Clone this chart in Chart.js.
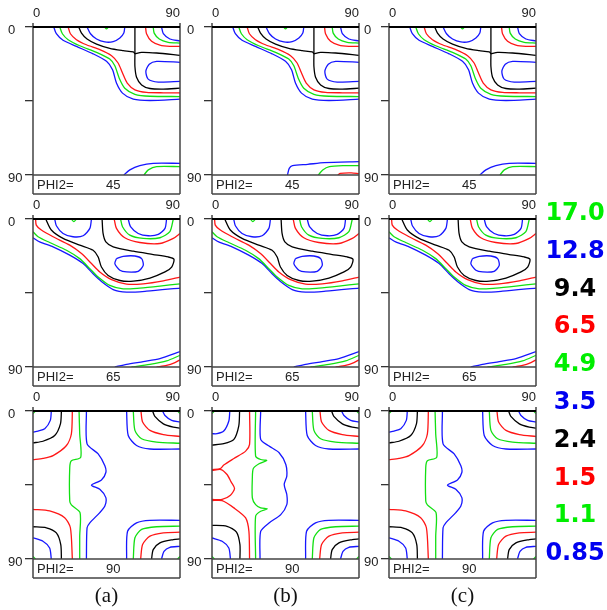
<!DOCTYPE html>
<html lang="en">
<head>
  <meta charset="utf-8">
  <title>ODF sections</title>
  <script src="https://cdn.jsdelivr.net/npm/chart.js@4.4.0/dist/chart.umd.min.js"></script>
  <style>
    body{margin:0;background:#fff;width:607px;height:610px;position:relative;overflow:hidden;font-family:"Liberation Sans",Arial,sans-serif}
    canvas{position:absolute}
    .lev{position:absolute;width:90px;text-align:center;font:bold 24px "DejaVu Sans",sans-serif;line-height:28px}
    .cap{position:absolute;width:100px;text-align:center;font:21px "Liberation Serif",serif;color:#111}
  </style>
</head>
<body>
<script>
// contour levels shown on the right
var levels = ['17.0','12.8','9.4','6.5','4.9','3.5','2.4','1.5','1.1','0.85'];
var levelColors = ['green','blue','black','red','green','blue','black','red','green','blue'];
var phi2Values = [45, 65, 90];
var columnLabels = ['(a)','(b)','(c)'];
var yTicks = [0, 45, 90];
var xTicks = [0, 90];

// PHI2 = 45  (panels a, c ; b shares the upper part)
var p45_blueCap = [[33.1,0],[35.2,4.1],[38.9,7.3],[44.0,9.1],[49.1,8.9],[53.2,6.7],[55.6,3.7],[56.2,0]];
var p45_greenDot = [[43.8,0],[45,1.2],[46.2,0]];
var p45_blackArc = [[28.0,0],[29.7,3.7],[33.1,7.3],[38.9,10.4],[47.0,13.0],[55.2,14.4],[61.4,15.2],[62.4,16.3]];
var p45_blackStem = [[62.4,0],[62.4,16.3]];
var p45_blackRight = [[62.4,16.3],[66.5,15.4],[75.7,15.8],[90,17.3]];
var p45_blackLow = [[62.4,16.3],[62.4,24.0],[63.4,30.5],[66.5,35.2],[71.6,37.4],[79.8,37.8],[90,37.2]];
var p45_redMain = [[21.5,0],[22.9,4.1],[26.6,7.7],[32.7,10.8],[40.9,13.8],[48.1,17.5],[52.1,21.9],[54.8,28.0],[57.7,34.1],[62.4,38.2],[69.5,39.8],[79.8,40.0],[90,40.0]];
var p45_redTop = [[68.9,0],[69.5,4.1],[72.6,8.7],[77.7,11.0],[83.8,11.8],[90,11.8]];
var p45_greenMain = [[16.4,0],[18.0,4.1],[21.5,7.7],[28.6,11.4],[38.9,15.4],[47.0,19.5],[50.1,23.6],[52.8,31.1],[56.2,37.2],[62.4,40.9],[71.6,42.1],[90,42.3]];
var p45_greenTop = [[73.6,0],[74.2,3.7],[77.3,7.3],[82.8,9.3],[90,9.8]];
var p45_blueMain = [[12.7,0],[14.3,4.1],[18.4,8.1],[26.6,11.8],[36.8,16.3],[45.0,20.9],[48.7,26.0],[51.1,34.1],[54.8,40.2],[61.4,43.9],[71.6,44.7],[90,43.9]];
var p45_blueTop = [[78.7,0],[79.8,4.1],[83.8,7.3],[90,8.5]];
var p45_blueLoop = [[90,21.5],[75.7,20.9],[71.2,22.6],[69.1,27.0],[70.5,31.7],[76.7,33.5],[90,33.1]];
var p45_blueBottom = [[55.6,90],[59.3,86.9],[65.4,84.3],[73.6,82.9],[90,82.9]];
var p45_greenBottom = [[67.9,90],[70.6,86.9],[75.7,84.9],[90,84.9]];
var b45_blueBottom = [[46.2,90],[47.3,86.0],[49.3,84.3],[58.6,83.5],[68.8,82.5],[90,81.9]];
var b45_greenBottom = [[65.1,90],[67.8,86.9],[71.9,84.9],[81.2,84.3],[90,84.3]];
var b45_redBottom = [[77.1,90],[78.5,89.0],[85.3,88.7],[90,89.2]];

// PHI2 = 65
var p65_blueCapL = [[13.3,0],[14.3,4.1],[18.4,8.8],[24.5,10.8],[30.7,10.2],[34.8,5.7],[35.8,0]];
var p65_greenDot = [[23.5,0],[25.0,1.6],[26.6,0]];
var p65_blueCapR = [[58.3,0],[59.7,4.7],[64.4,8.8],[70.6,10.2],[76.7,9.4],[80.8,5.7],[81.8,0]];
var p65_greenTop = [[53.6,0],[54.8,4.7],[59.3,9.8],[67.5,11.8],[77.7,11.4],[83.8,7.7],[85.9,0]];
var p65_redTop = [[49.7,0],[51.1,5.7],[56.2,11.4],[65.4,14.3],[77.7,14.9],[85.9,11.8],[90,8.8]];
var p65_blackMain = [[7.8,0],[11.2,6.7],[18.4,11.8],[28.6,15.9],[36.8,19.0],[39.9,23.1],[41.9,29.2],[46.0,34.3],[53.2,37.4],[61.4,37.8],[71.6,35.9],[80.8,32.2],[84.9,29.2],[86.3,24.5],[82.8,23.1],[73.6,21.6],[61.4,19.6],[49.1,16.9],[44.6,13.9],[42.9,8.8],[42.3,0]];
var p65_blueIsland = [[51.1,24.1],[50.1,27.1],[53.2,31.2],[57.3,32.2],[64.4,31.8],[67.5,28.2],[66.5,24.1],[62.4,22.5],[55.2,22.7],[51.1,24.1]];
var p65_redMain = [[1.6,0],[2.0,3.7],[5.1,6.7],[12.3,10.8],[22.5,15.9],[29.7,21.0],[35.8,27.1],[40.9,32.2],[48.1,36.9],[57.3,39.6],[67.5,39.4],[79.8,37.6],[90,35.3]];
var p65_greenMain = [[0,7.8],[3.1,10.8],[10.2,14.3],[20.5,19.0],[28.6,24.1],[34.8,30.2],[39.9,35.3],[47.0,40.4],[55.2,42.5],[65.4,42.0],[77.7,40.8],[90,39.4]];
var p65_blueMain = [[0,11.4],[4.1,13.9],[12.3,16.9],[22.5,22.0],[30.7,27.1],[36.8,33.3],[41.9,38.0],[49.1,42.9],[57.3,44.5],[69.5,43.9],[90,42.0]];
var p65_blueBottom = [[50.1,90],[57.3,88.4],[67.5,86.7],[77.7,84.9],[90,80.6]];
var p65_greenBottom = [[60.3,90],[71.6,88.4],[81.8,86.3],[90,82.9]];
var p65_redBottom = [[75.7,90],[81.8,89.0],[86.9,87.3],[90,85.7]];

// PHI2 = 90  (panels a, c)
var p90_blueTL = [[11.2,0],[10.6,5.7],[7.2,10.8],[3.1,12.2],[0,12.9]];
var p90_blackTL = [[17.4,0],[16.8,7.8],[13.3,14.9],[6.1,18.4],[0,19.4]];
var p90_redTL = [[24.1,0],[23.5,13.9],[20.5,21.0],[12.3,27.1],[6.1,28.8],[0,29.6]];
var p90_greenMid = [[28.2,0],[28.6,14],[29.2,28.2],[23.5,30.2],[22.5,34.3],[22.5,54.7],[23.5,57.1],[28.8,61.8],[28.6,76],[28.6,90]];
var p90_blueMid = [[32.7,0],[33.1,20.0],[39.9,26.1],[44.0,33.3],[44.6,37.4],[41.9,42.0],[35.8,45.1],[40.9,47.6],[44.6,52.7],[44.0,57.8],[40.9,61.8],[34.8,68.0],[33.1,71.0],[32.7,90]];
var p90_blueTR = [[57.3,0],[58.3,14.9],[63.4,21.0],[71.6,23.1],[90,23.1]];
var p90_greenTR = [[61.4,0],[62.4,11.8],[66.5,16.9],[75.7,18.9],[90,19.6]];
var p90_redTR = [[66.1,0],[67.1,6.7],[71.6,11.8],[79.8,14.3],[90,15.5]];
var p90_blackTR = [[73.2,0],[74.6,3.3],[79.8,7.8],[85.9,9.8],[90,10.4]];
var p90_blueTR2 = [[79.3,0],[80.8,2.7],[84.9,5.7],[90,6.7]];
var p90_redBL = [[0,59.8],[10.2,60.8],[19.4,64.9],[22.9,71.0],[24.1,90]];
var p90_blackBL = [[0,70.4],[8.2,71.0],[14.3,74.1],[17.0,81.2],[17.4,90]];
var p90_blueBL = [[0,77.1],[6.1,79.2],[10.2,83.3],[11.2,90]];
var p90_blueBR = [[57.3,90],[57.9,73.1],[63.4,68.0],[71.6,66.5],[90,66.5]];
var p90_greenBR = [[61.4,90],[62.4,77.1],[66.5,72.0],[75.7,70.4],[90,70.0]];
var p90_redBR = [[65.9,90],[67.1,81.2],[71.6,76.1],[79.8,74.1],[90,73.7]];
var p90_blackBR = [[72.6,90],[73.6,84.3],[77.7,80.2],[85.9,78.2],[90,77.8]];
var p90_blueBR2 = [[78.7,90],[80.2,85.3],[83.8,82.9],[90,82.3]];
var p90_greenTLc = [[0,1.5],[1.5,0]];
var p90_greenTRc = [[88.5,0],[90,1.5]];
var p90_greenBLc = [[0,88.5],[1.5,90]];
var p90_greenBRc = [[88.5,90],[90,88.5]];
// PHI2 = 90  (panel b)
var b90_blueTL = [[10.9,0],[10.3,6.1],[7.2,12.2],[3.1,13.8],[0,13.8]];
var b90_blackTL = [[16.9,0],[16.4,9.1],[13.4,17.3],[7.2,19.9],[0,20.7]];
var b90_redTop = [[23.0,0],[23.0,20.3],[20.6,24.4],[13.4,28.9],[7.2,32.9],[5.1,35.0],[0,35.6]];
var b90_redBulge = [[0,36.2],[5.5,35.6],[9.2,38.6],[11.7,43.1],[13.8,47.1],[11.3,51.2],[6.2,53.8],[0,53.8]];
var b90_redBottom = [[0,54.5],[6.2,54.5],[13.4,58.9],[20.6,65.0],[22.6,73.2],[23.0,90]];
var b90_greenMid = [[26.7,0],[26.7,27.4],[29.8,29.5],[33.5,30.1],[28.8,32.1],[25.3,35.0],[24.7,40.6],[24.7,52.8],[26.7,56.9],[29.8,58.9],[33.9,59.5],[29.8,61.0],[26.7,64.0],[26.7,90]];
var b90_blueMid = [[29.8,0],[29.8,17.3],[34.9,21.3],[41.1,25.4],[45.2,32.5],[45.8,39.6],[44.2,44.7],[45.8,50.8],[45.8,56.9],[42.1,63.0],[34.9,68.1],[29.8,73.2],[29.4,90]];
var b90_blackBL = [[0,69.5],[9.2,70.1],[15.0,73.6],[17.1,81.3],[17.1,90]];
var b90_blueBL = [[0,77.2],[6.2,79.2],[10.3,83.3],[11.3,90]];

var COLORS = {blue:'#1616ff', green:'#12e012', red:'#ff1616', black:'#000000'};
var LEGEND_COLORS = {blue:'#0000f0', green:'#00ee00', red:'#ff0000', black:'#000000'};

var upper45 = [[p45_blueCap,'blue'],[p45_greenDot,'green'],[p45_blackArc,'black'],[p45_blackStem,'black'],
  [p45_blackRight,'black'],[p45_blackLow,'black'],[p45_redMain,'red'],[p45_redTop,'red'],[p45_greenMain,'green'],
  [p45_greenTop,'green'],[p45_blueMain,'blue'],[p45_blueTop,'blue'],[p45_blueLoop,'blue']];
var lines45 = upper45.concat([[p45_blueBottom,'blue'],[p45_greenBottom,'green']]);
var lines45b = upper45.concat([[b45_blueBottom,'blue'],[b45_greenBottom,'green'],[b45_redBottom,'red']]);
var lines65 = [[p65_blueCapL,'blue'],[p65_greenDot,'green'],[p65_blueCapR,'blue'],[p65_greenTop,'green'],[p65_redTop,'red'],
  [p65_blackMain,'black'],[p65_blueIsland,'blue'],[p65_redMain,'red'],[p65_greenMain,'green'],[p65_blueMain,'blue'],
  [p65_blueBottom,'blue'],[p65_greenBottom,'green'],[p65_redBottom,'red']];
var right90 = [[p90_blueTR,'blue'],[p90_greenTR,'green'],[p90_redTR,'red'],[p90_blackTR,'black'],[p90_blueTR2,'blue'],
  [p90_blueBR,'blue'],[p90_greenBR,'green'],[p90_redBR,'red'],[p90_blackBR,'black'],[p90_blueBR2,'blue'],
  [p90_greenTLc,'green'],[p90_greenTRc,'green'],[p90_greenBLc,'green'],[p90_greenBRc,'green']];
var lines90 = right90.concat([[p90_blueTL,'blue'],[p90_blackTL,'black'],[p90_redTL,'red'],[p90_greenMid,'green'],
  [p90_blueMid,'blue'],[p90_redBL,'red'],[p90_blackBL,'black'],[p90_blueBL,'blue']]);
var lines90b = right90.concat([[b90_blueTL,'blue'],[b90_blackTL,'black'],[b90_redTop,'red'],[b90_redBulge,'red'],
  [b90_redBottom,'red'],[b90_greenMid,'green'],[b90_blueMid,'blue'],[b90_blackBL,'black'],[b90_blueBL,'blue']]);

var grid = [[lines45, lines45b, lines45],[lines65, lines65, lines65],[lines90, lines90b, lines90]];

// layout
var colLeft = [33, 212, 389], rowTop = [27, 219, 411];
var PLOT_W = 147, PLOT_H = 148, AX_L = 25, AX_T = 27, STRIP = 19, PAD_R = 6;

var framePlugin = {
  id: 'frame',
  afterDraw: function(chart, args, opts) {
    var ctx = chart.ctx, a = chart.chartArea;
    ctx.save();
    ctx.strokeStyle = '#444'; ctx.lineWidth = 1.5;
    ctx.beginPath();
    ctx.moveTo(a.left, a.top - 4); ctx.lineTo(a.left, a.bottom + STRIP);
    ctx.moveTo(a.right, a.top - 4); ctx.lineTo(a.right, a.bottom + STRIP);
    ctx.moveTo(a.left, a.bottom + STRIP); ctx.lineTo(a.right, a.bottom + STRIP);
    ctx.moveTo(a.left, a.bottom); ctx.lineTo(a.right, a.bottom);
    ctx.stroke();
    ctx.strokeStyle = '#000'; ctx.lineWidth = 2;
    ctx.beginPath(); ctx.moveTo(a.left, a.top); ctx.lineTo(a.right, a.top); ctx.stroke();
    ctx.fillStyle = '#222'; ctx.font = '13px "Liberation Sans", Arial, sans-serif';
    ctx.textBaseline = 'middle';
    ctx.fillText('PHI2=', a.left + 4, a.bottom + STRIP / 2 + 1);
    ctx.fillText(String(opts.phi2), a.left + 73, a.bottom + STRIP / 2 + 1);
    ctx.restore();
  }
};

var tickFont = {family: '"Liberation Sans", Arial, sans-serif', size: 13};

for (var r = 0; r < 3; r++) {
  for (var c = 0; c < 3; c++) {
    var cv = document.createElement('canvas');
    cv.width = AX_L + PLOT_W + PAD_R;
    cv.height = AX_T + PLOT_H + STRIP + 2;
    cv.style.left = (colLeft[c] - AX_L) + 'px';
    cv.style.top = (rowTop[r] - AX_T) + 'px';
    document.body.appendChild(cv);
    new Chart(cv, {
      type: 'scatter',
      data: {
        datasets: grid[r][c].map(function(l) {
          return {
            data: l[0].map(function(p) { return {x: p[0], y: p[1]}; }),
            borderColor: COLORS[l[1]], borderWidth: 1.3, showLine: true,
            pointRadius: 0, pointHoverRadius: 0, tension: 0.25, fill: false
          };
        })
      },
      options: {
        responsive: false, animation: false, devicePixelRatio: 1,
        events: [],
        layout: {padding: {left: 0, top: 0, right: PAD_R, bottom: STRIP + 2}},
        plugins: {legend: {display: false}, tooltip: {enabled: false}, frame: {phi2: phi2Values[r]}},
        scales: {
          x: {
            type: 'linear', position: 'top', min: 0, max: 90,
            afterBuildTicks: function(s) { s.ticks = xTicks.map(function(v) { return {value: v}; }); },
            afterFit: function(s) { s.height = AX_T; },
            ticks: {align: 'inner', font: tickFont, color: '#222', padding: 6, maxRotation: 0, autoSkip: false},
            grid: {display: false, drawTicks: false},
            border: {display: false}
          },
          y: {
            type: 'linear', position: 'left', reverse: true, min: 0, max: 90,
            afterBuildTicks: function(s) { s.ticks = yTicks.map(function(v) { return {value: v}; }); },
            afterFit: function(s) { s.width = AX_L; },
            ticks: {crossAlign: 'far', font: tickFont, color: '#222', labelOffset: 3, autoSkip: false,
              callback: function(v) { return v === 45 ? '' : String(v); }},
            grid: {drawOnChartArea: false, tickLength: 8, color: '#333', lineWidth: 1.3},
            border: {display: false}
          }
        }
      },
      plugins: [framePlugin]
    });
  }
}

// level legend
levels.forEach(function(t, i) {
  var d = document.createElement('div');
  d.className = 'lev';
  d.textContent = t;
  d.style.color = LEGEND_COLORS[levelColors[i]];
  d.style.left = (575 - 45) + 'px';
  d.style.top = (212 + i * 37.8 - 14) + 'px';
  document.body.appendChild(d);
});

columnLabels.forEach(function(t, i) {
  var d = document.createElement('div');
  d.className = 'cap';
  d.textContent = t;
  d.style.left = (colLeft[i] + PLOT_W / 2 - 50) + 'px';
  d.style.top = '583px';
  document.body.appendChild(d);
});
</script>
</body>
</html>
